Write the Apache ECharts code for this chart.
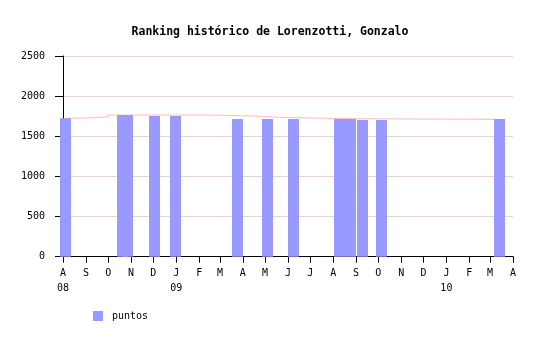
<!DOCTYPE html>
<html>
<head>
<meta charset="utf-8">
<script src="https://cdn.jsdelivr.net/npm/echarts@6/dist/echarts.min.js"></script>
<style>html,body{margin:0;padding:0;background:#fff}#c{width:540px;height:340px}</style>
</head>
<body>
<div id="c"></div>
<script>
// Data
var titleText = 'Ranking histórico de Lorenzotti, Gonzalo';
var seriesName = 'puntos';
var barDates = ['2008-08-05','2008-10-20','2008-10-27','2008-12-03','2008-12-31','2009-03-25','2009-05-04','2009-06-08','2009-08-09','2009-08-24','2009-09-09','2009-10-05','2010-03-14'];
var barValues = [1725,1765,1765,1752,1752,1715,1715,1715,1715,1715,1703,1703,1715];
var lineDates = ['2008-08-05','2008-08-24','2008-10-01','2009-02-11','2009-04-14','2009-05-21','2009-08-14','2010-03-14'];
var lineValues = [1725,1740,1765,1753,1736,1720,1710,1710];
var monthLetters = ['J','F','M','A','M','J','J','A','S','O','N','D'];
var yTicks = [0,500,1000,1500,2000,2500];
var axisStart = '2008-08-01';
var axisEnd = '2010-04-01';

function toTime(s){var p=s.split('-');return new Date(+p[0],+p[1]-1,+p[2]).getTime();}
var startT = toTime(axisStart);
var DAY = 86400000;
var font = 'DejaVu Sans Mono';
var BAR_W = 11;

var chart = echarts.init(document.getElementById('c'), null, {renderer:'canvas'});
chart.setOption({
  animation:false,
  backgroundColor:'#ffffff',
  title:{text:titleText,left:'center',top:21,textStyle:{fontFamily:font,fontSize:11.5,fontWeight:'bold',color:'#000'}},
  legend:{data:[seriesName],left:93,top:311,padding:0,itemWidth:10,itemHeight:10,icon:'rect',
    textStyle:{fontFamily:font,fontSize:10,color:'#000',padding:[0,0,0,4]}},
  grid:{left:63,right:27,top:56,height:200.7},
  xAxis:{type:'time',min:startT,max:toTime(axisEnd),minInterval:28*DAY,maxInterval:31*DAY,
    axisLine:{lineStyle:{color:'#000',width:1}},
    axisTick:{show:true,length:6,lineStyle:{color:'#000'}},
    splitLine:{show:false},
    axisLabel:{fontFamily:font,fontSize:10,color:'#000',margin:9,lineHeight:15,hideOverlap:false,
      formatter:function(v){var d=new Date(v);var m=d.getMonth();var t=monthLetters[m];
        if(m===0||Math.abs(v-startT)<DAY){t+='\n'+String(d.getFullYear()).slice(2);} return t;}}
  },
  yAxis:{type:'value',min:yTicks[0],max:yTicks[yTicks.length-1],interval:yTicks[1]-yTicks[0],
    axisLine:{show:true,lineStyle:{color:'#000',width:1}},
    axisTick:{show:true,length:8,lineStyle:{color:'#000'}},
    splitLine:{show:true,lineStyle:{color:'#e8d4cc',width:1}},
    axisLabel:{fontFamily:font,fontSize:10,color:'#000',margin:18,formatter:function(v){return String(v);}}
  },
  series:[
    {name:'linea',type:'line',step:'end',showSymbol:false,z:1,silent:true,
     lineStyle:{color:'#ffbcbc',width:1},
     data:lineDates.map(function(d,i){return [toTime(d),lineValues[i]];})},
    {name:seriesName,type:'custom',z:3,clip:false,
     itemStyle:{color:'#9999ff'},
     encode:{x:0,y:1},
     renderItem:function(params,api){
       var t=api.value(0), v=api.value(1);
       var top=api.coord([t,v]); var bot=api.coord([t,0]);
       return {type:'rect',shape:{x:Math.round(top[0]-BAR_W/2),y:top[1],width:BAR_W,height:bot[1]-top[1]},
         style:{fill:'#9999ff'}};
     },
     data:barDates.map(function(d,i){return [toTime(d),barValues[i]];})}
  ]
});
</script>
</body>
</html>
